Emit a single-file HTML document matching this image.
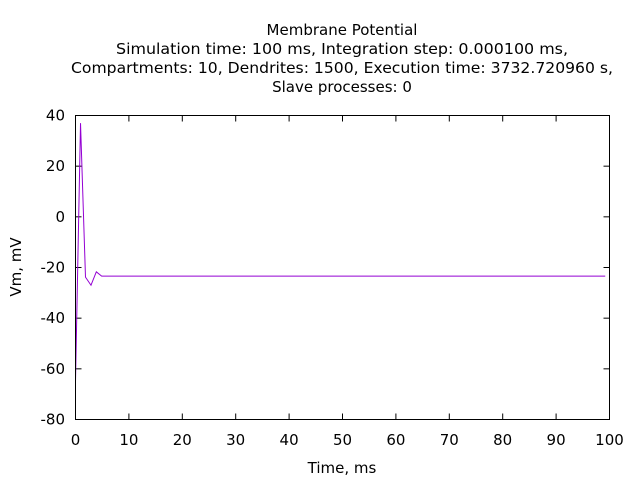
<!DOCTYPE html>
<html><head><meta charset="utf-8"><style>body{margin:0;background:#fff}svg{display:block}text{font-family:"DejaVu Sans","Liberation Sans",sans-serif;font-size:15px;fill:#000}</style></head>
<body>
<svg id="chart" width="640" height="480" viewBox="0 0 640 480">
<g text-anchor="middle">
<text x="342" y="35">Membrane Potential</text>
<text x="342" y="54" textLength="452" lengthAdjust="spacingAndGlyphs">Simulation time: 100 ms, Integration step: 0.000100 ms,</text>
<text x="342" y="73" textLength="542" lengthAdjust="spacingAndGlyphs">Compartments: 10, Dendrites: 1500, Execution time: 3732.720960 s,</text>
<text x="342" y="92">Slave processes: 0</text>
</g>
<g id="axes"></g>
<text x="342" y="473" text-anchor="middle">Time, ms</text>
<text transform="translate(21,267) rotate(-90)" text-anchor="middle">Vm, mV</text>
<rect x="75.5" y="115.5" width="534" height="304" fill="none" stroke="#000" stroke-width="1"/>
</svg>
<script>
const xTicks=[0,10,20,30,40,50,60,70,80,90,100];
const yTicks=[-80,-60,-40,-20,0,20,40];
const times=[0,0.94,1.87,2.9,3.9,4.9,10,20,30,40,50,60,70,80,90,99.2];
const vm=[-65,37,-23.8,-27,-21.7,-23.4,-23.4,-23.4,-23.4,-23.4,-23.4,-23.4,-23.4,-23.4,-23.4,-23.4];
const L=75.5,R=609.5,T=115.5,B=419.5;
const sx=v=>L+(v-0)/(100-0)*(R-L);
const sy=v=>B-(v+80)/120*(B-T);
const NS='http://www.w3.org/2000/svg';
const g=document.getElementById('axes');
function mk(t,a){const e=document.createElementNS(NS,t);for(const k in a)e.setAttribute(k,a[k]);g.appendChild(e);return e;}
xTicks.forEach(v=>{const x=sx(v);
const t1=mk('line',{x1:x,x2:x,y1:B,y2:B-6,stroke:'#000'});


mk('line',{x1:x,x2:x,y1:T,y2:T+6,stroke:'#000'});
const tx=mk('text',{x:x,y:445,'text-anchor':'middle'});tx.textContent=v;


});
yTicks.forEach(v=>{const y=sy(v);
const t1=mk('line',{x1:L,x2:L+6,y1:y,y2:y,stroke:'#000'});


mk('line',{x1:R,x2:R-6,y1:y,y2:y,stroke:'#000'});
const tx=mk('text',{x:65,y:y+5,'text-anchor':'end'});tx.textContent=v;


});
const p=mk('polyline',{points:times.map((t,i)=>sx(t)+','+sy(vm[i])).join(' '),fill:'none',stroke:'#9400d3','stroke-width':1});


</script>
</body></html>
